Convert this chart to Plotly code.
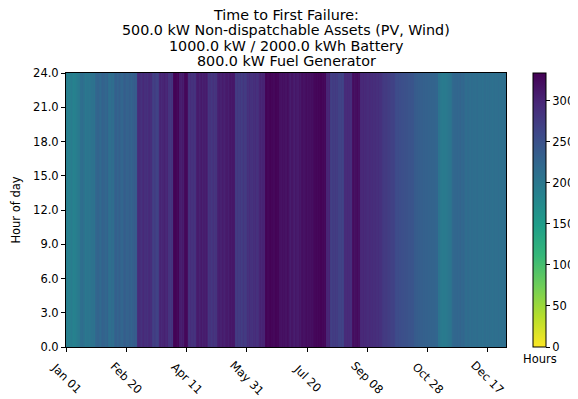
import plotly.graph_objects as go

# Daily time-to-first-failure values (hours), Jan 01 .. Dec 31
daily_hours = [
    192, 190, 188, 191, 194, 190, 186, 189, 193, 196, 198, 200,
    212, 215, 210, 208,
    200, 204, 206, 202, 205, 208, 210, 207,
    222, 225, 228, 224, 220, 226, 230, 227, 223, 225, 229,
    215, 212, 218, 216, 214,
    228, 232, 226, 230, 234, 229, 225, 231, 236, 233, 228, 230, 235, 232, 227, 233, 238, 235, 240,
    288, 294, 290, 286, 292, 296, 289, 291, 287, 293, 295, 290,
    274, 270, 276, 272, 268, 273,
    298, 302, 296, 300, 304, 299, 297, 301,
    284, 280, 286, 282,
    328, 332, 330, 326, 331,
    308, 305, 311, 307,
    325, 328, 322,
    288, 284, 291, 286, 289, 283, 287,
    305, 309, 303, 307, 311, 304, 308, 306, 310, 302,
    282, 286, 280, 284, 288, 281, 285,
    302, 305, 307, 304, 309, 306, 303, 308, 310, 305,
    312, 314, 310, 313, 311,
    278, 274, 281, 276, 280, 272, 277, 282, 275, 279,
    289, 286, 292, 287, 285, 291, 288, 293, 287, 290,
    300, 303, 298, 302, 301,
    330, 332, 328, 331, 333, 329, 330, 327, 332, 331, 329, 330,
    320, 318, 322, 319, 321, 317, 323, 320,
    312, 308, 315, 310, 306, 314, 311, 309, 316, 312,
    320, 322, 318, 321, 324, 319, 322, 320, 323, 321, 325,
    328, 330, 327, 331, 329, 332, 328, 330, 326, 329,
    300, 298, 302,
    274, 270, 276, 272, 278, 273, 275,
    268, 266, 270, 265, 269,
    294, 292, 296, 293, 295, 291,
    320, 324, 318, 322, 325, 319, 321,
    298, 296, 299, 294, 297, 295, 292, 296, 293, 291, 294, 290, 292, 289, 288, 291, 287, 286,
    280, 278, 276, 277, 274, 272, 273, 270, 268, 269, 266,
    258, 256, 257, 254, 255, 252, 253, 250, 251, 249, 250, 247, 248, 246, 247, 245,
    238, 236, 237, 234, 235, 233, 234, 231, 232, 230, 231, 229, 230, 228, 229, 227, 228, 226, 225, 226,
    205, 200, 198, 196, 197, 195, 198, 200, 202, 204, 208,
    220, 222, 224,
    224, 226, 222, 225, 227, 223, 225, 221,
    216, 214, 218, 215, 213, 217, 216, 214, 212, 215, 217, 213,
    212, 214, 210, 213, 215, 211, 214, 212, 216, 213, 210, 212, 214, 211, 213, 215, 212, 210, 213, 211, 214, 212,
]
days = list(range(len(daily_hours)))
hours = list(range(24))

x_tick_days = [0, 50, 100, 150, 200, 250, 300, 350]
x_tick_labels = ["Jan 01", "Feb 20", "Apr 11", "May 31", "Jul 20", "Sep 08", "Oct 28", "Dec 17"]
y_tick_vals = [0, 3, 6, 9, 12, 15, 18, 21, 24]
cbar_ticks = [0, 50, 100, 150, 200, 250, 300]
z_max = 334

title_lines = [
    "Time to First Failure:",
    "500.0 kW Non-dispatchable Assets (PV, Wind)",
    "1000.0 kW / 2000.0 kWh Battery",
    "800.0 kW Fuel Generator",
]

z = [[daily_hours[d] for d in days] for h in hours]

FONT = "DejaVu Sans"
OFF = 8  # page body margin in the browser
W, H = 578 - OFF, 399 - OFF
# target plot box in window pixels: x 66..505.7, y 73..347
L = 66 - OFF
T = 73 - OFF
R = W - (505.7 - OFF)
B = H - (347 - OFF)
plot_w = W - L - R
plot_h = H - T - B


def px_to_paper_x(xp):
    return (xp - OFF - L) / plot_w


def px_to_paper_y(yp):
    return (H - B - (yp - OFF)) / plot_h


fig = go.Figure(go.Heatmap(
    x=[d + 0.5 for d in days],
    y=[h + 0.5 for h in hours],
    z=z,
    colorscale="Viridis",
    reversescale=True,
    zmin=0, zmax=z_max,
    colorbar=dict(
        x=px_to_paper_x(533), xanchor="left",
        y=0, yanchor="bottom",
        len=1, lenmode="fraction",
        thickness=13, thicknessmode="pixels",
        outlinewidth=1, outlinecolor="black",
        tickvals=cbar_ticks, ticks="outside", ticklen=4, tickcolor="black",
        tickfont=dict(family=FONT, size=11.5, color="black"),
        xpad=0, ypad=0,
    ),
    hoverinfo="skip",
))

annotations = []
line_y = [14.5, 30, 45.5, 61]
for txt, yp in zip(title_lines, line_y):
    annotations.append(dict(
        text=txt, xref="paper", yref="paper", x=0.5, y=px_to_paper_y(yp),
        xanchor="center", yanchor="middle", showarrow=False,
        font=dict(family=FONT, size=14.3, color="black"),
    ))
for d, lab in zip(x_tick_days, x_tick_labels):
    annotations.append(dict(
        text=lab, xref="x", yref="paper", x=d, y=0, yshift=-31,
        xanchor="center", yanchor="middle", textangle=45, showarrow=False,
        font=dict(family=FONT, size=11.5, color="black"),
    ))
annotations.append(dict(
    text="Hours", xref="paper", yref="paper",
    x=px_to_paper_x(539.5), y=px_to_paper_y(359),
    xanchor="center", yanchor="middle", showarrow=False,
    font=dict(family=FONT, size=11.5, color="black"),
))

fig.update_layout(
    width=W, height=H,
    margin=dict(l=L, r=R, t=T, b=B, autoexpand=False),
    paper_bgcolor="white", plot_bgcolor="white",
    font=dict(family=FONT, size=11.5, color="black"),
    annotations=annotations,
    xaxis=dict(
        range=[0, len(daily_hours)], tickvals=x_tick_days, ticktext=[""] * len(x_tick_days),
        ticks="outside", ticklen=4, tickcolor="black",
        showline=True, linecolor="black", linewidth=1, mirror=True,
        showgrid=False, zeroline=False,
    ),
    yaxis=dict(
        range=[0, 24], tickvals=y_tick_vals, ticktext=[f"{v:.1f}" for v in y_tick_vals],
        ticks="outside", ticklen=4, tickcolor="black",
        showline=True, linecolor="black", linewidth=1, mirror=True,
        showgrid=False, zeroline=False,
        title=dict(text="Hour of day", font=dict(family=FONT, size=11.5), standoff=10),
    ),
)

fig.write_html("out.html")
